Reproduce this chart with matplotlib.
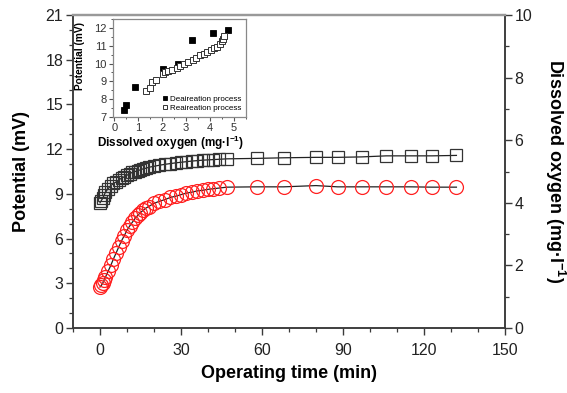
import matplotlib
matplotlib.use("Agg")
import matplotlib.pyplot as plt
from matplotlib.ticker import MultipleLocator

plt.rcParams['font.family'] = ['Liberation Sans', 'DejaVu Sans']
plt.rcParams['mathtext.fontset'] = 'custom'
plt.rcParams['mathtext.rm'] = 'Liberation Sans'
plt.rcParams['mathtext.bf'] = 'Liberation Sans:bold'

# operating time (min)
time_min = [0, 0.5, 1, 1.5, 2, 3, 4, 5, 6, 7, 8, 9, 10, 11, 12, 13, 14, 15, 16, 17,
            18, 20, 22, 24, 26, 28, 30, 32, 34, 36, 38, 40, 42, 44, 47,
            58, 68, 80, 88, 97, 106, 115, 123, 132]

# electrode potential (mV), left axis
potential = [8.4, 8.55, 8.7, 8.9, 9.1, 9.35, 9.55, 9.7, 9.8, 9.95, 10.05, 10.15, 10.25,
             10.35, 10.45, 10.5, 10.55, 10.62, 10.68, 10.72, 10.78, 10.85, 10.92, 10.98,
             11.03, 11.08, 11.12, 11.16, 11.2, 11.23, 11.26, 11.28, 11.3, 11.32, 11.35,
             11.38, 11.42, 11.45, 11.45, 11.48, 11.55, 11.55, 11.55, 11.58]

# dissolved oxygen (mg/l), right axis
dissolved_o2 = [1.31, 1.36, 1.43, 1.52, 1.62, 1.81, 2.00, 2.21, 2.40, 2.60, 2.79, 2.95,
                3.12, 3.26, 3.38, 3.50, 3.60, 3.69, 3.76, 3.83, 3.88, 3.98, 4.05, 4.10,
                4.17, 4.21, 4.26, 4.31, 4.34, 4.38, 4.40, 4.43, 4.45, 4.47, 4.50,
                4.51, 4.51, 4.55, 4.51, 4.51, 4.51, 4.51, 4.50, 4.50]

# inset: potential vs dissolved oxygen
deair_do = [0.39, 0.50, 0.88, 2.02, 2.65, 3.26, 4.11, 4.76]
deair_pot = [7.4, 7.7, 8.7, 9.7, 10.0, 11.3, 11.7, 11.9]

reair_do = [1.31, 1.50, 1.58, 1.76, 2.04, 2.10, 2.23, 2.41, 2.60, 2.76, 2.93, 3.10,
            3.28, 3.43, 3.60, 3.74, 3.88, 4.04, 4.18, 4.29, 4.40, 4.50, 4.54, 4.57]
reair_pot = [8.48, 8.6, 8.99, 9.05, 9.39, 9.53, 9.58, 9.65, 9.75, 9.84, 9.95, 10.09,
             10.18, 10.32, 10.47, 10.56, 10.65, 10.75, 10.85, 10.95, 11.08, 11.24, 11.39, 11.56]

axis_col = '#3a3a3a'

fig = plt.figure(figsize=(5.67, 3.93), dpi=100)
ax = fig.add_axes([0.1287, 0.1654, 0.762, 0.7964])
ax2 = ax.twinx()

ax.plot(time_min, potential, '-', color='#222222', lw=0.9, zorder=2)
ax.plot(time_min, potential, 's', ms=9, mfc='none', mec='#333333', mew=0.9, zorder=3)

ax2.plot(time_min, dissolved_o2, '-', color='#222222', lw=0.9, zorder=2)
ax2.plot(time_min, dissolved_o2, 'o', ms=10, mfc='none', mec='#ff2020', mew=0.9, zorder=3)

ax.set_xlim(-10, 150)
ax.set_ylim(0, 21)
ax2.set_ylim(0, 10)
ax.xaxis.set_major_locator(MultipleLocator(30))
ax.xaxis.set_minor_locator(MultipleLocator(10))
ax.yaxis.set_major_locator(MultipleLocator(3))
ax.yaxis.set_minor_locator(MultipleLocator(1))
ax2.yaxis.set_major_locator(MultipleLocator(2))
ax2.yaxis.set_minor_locator(MultipleLocator(1))

for a in (ax, ax2):
    a.tick_params(which='major', direction='out', length=5, width=1.0, color=axis_col,
                  labelsize=11.5, labelcolor='#222222', pad=2)
    a.tick_params(which='minor', direction='out', length=3, width=0.9, color=axis_col)
    for side in ('left', 'bottom', 'right'):
        a.spines[side].set_color(axis_col)
        a.spines[side].set_linewidth(1.1)
    a.spines['top'].set_color('#999999')
    a.spines['top'].set_linewidth(1.6)
ax.tick_params(axis='x', which='major', pad=6)

ax.set_xlabel('Operating time (min)', fontsize=13, fontweight='bold', labelpad=5)
ax.set_ylabel('Potential (mV)', fontsize=13, fontweight='bold', labelpad=11)
ax2.set_ylabel('Dissolved oxygen (mg·l$^{\\mathbf{-1}}$)', fontsize=13, fontweight='bold',
               rotation=270, labelpad=25)

# inset
ins = fig.add_axes([0.1993, 0.7023, 0.2346, 0.2494])
ins.set_zorder(5)
ins.plot(deair_do, deair_pot, 's', ms=4, mfc='black', mec='black', mew=0.6,
         label='Deaireation process', zorder=3)
ins.plot(reair_do, reair_pot, 's', ms=4, mfc='white', mec='#333333', mew=0.7,
         label='Reaireation process', zorder=3)
ins.set_xlim(-0.05, 5.5)
ins.set_ylim(7, 12.5)
ins.xaxis.set_major_locator(MultipleLocator(1))
ins.xaxis.set_minor_locator(MultipleLocator(0.5))
ins.yaxis.set_major_locator(MultipleLocator(1))
ins.yaxis.set_minor_locator(MultipleLocator(0.5))
ins.tick_params(which='major', direction='out', length=3, width=0.8, color='#555555',
                labelsize=8, labelcolor='#333333', pad=1.5)
ins.tick_params(which='minor', direction='out', length=1.5, width=0.7, color='#555555')
for side in ins.spines.values():
    side.set_color('#888888')
    side.set_linewidth(0.9)
ins.set_xlabel('Dissolved oxygen (mg·l$^{\\mathbf{-1}}$)', fontsize=8.5, fontweight='bold')
ins.xaxis.set_label_coords(0.43, -0.17)
ins.set_ylabel('Potential (mV)', fontsize=7.3, fontweight='bold')
ins.yaxis.set_label_coords(-0.21, 0.62)
ins.legend(loc='lower right', fontsize=5.8, frameon=False, handlelength=0.6,
           handletextpad=0.3, labelspacing=0.25, borderaxespad=0.2, markerscale=0.8)

fig.savefig('out.png', dpi=100)
